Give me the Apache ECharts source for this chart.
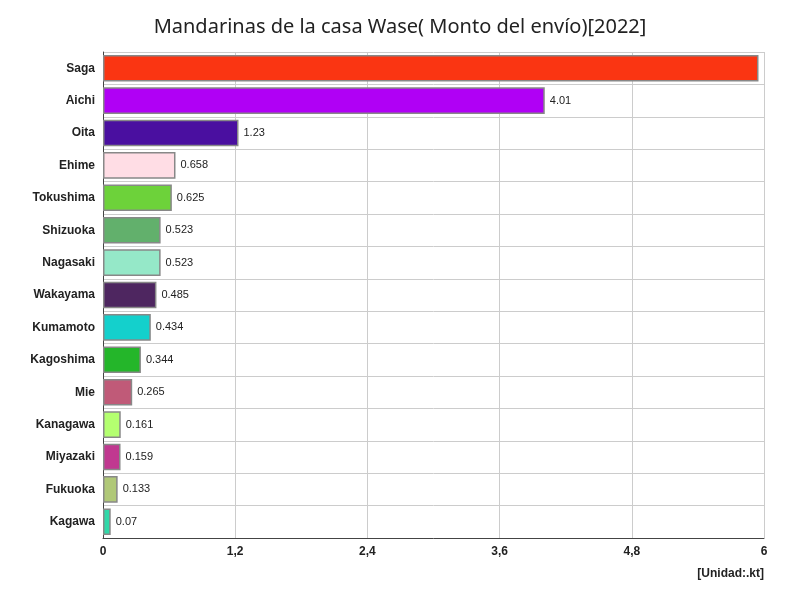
<!DOCTYPE html><html><head><meta charset="utf-8"><script src="https://cdn.jsdelivr.net/npm/echarts@6/dist/echarts.min.js"></script></head><body style="margin:0"><div id="c" style="width:800px;height:600px"></div><script>
const categories=["Saga","Aichi","Oita","Ehime","Tokushima","Shizuoka","Nagasaki","Wakayama","Kumamoto","Kagoshima","Mie","Kanagawa","Miyazaki","Fukuoka","Kagawa"];
const values=[5.95,4.01,1.23,0.658,0.625,0.523,0.523,0.485,0.434,0.344,0.265,0.161,0.159,0.133,0.07];
const colors=["#fa3512","#b000f5","#4a0fa0","#ffdde5","#6dd23a","#62b06c","#95e8c8","#4e2660","#14d0cc","#24b62a","#c05a78","#b4ff70","#c03890","#b0c878","#30d8a8"];
const chart=echarts.init(document.getElementById('c'));
chart.setOption({
title:{text:"Mandarinas de la casa Wase( Monto del envío)[2022]",left:'center',top:12,textStyle:{fontSize:20,fontWeight:'normal',color:'#222',fontFamily:'Noto Sans'}},
grid:{left:103,right:36,top:52,bottom:62},
xAxis:{type:'value',min:0,max:6,interval:1.2,axisLabel:{fontWeight:'bold',color:'#222',formatter:v=>String(+v.toFixed(1)).replace('.',',')},axisLine:{show:true,lineStyle:{color:'#444'}},splitLine:{lineStyle:{color:'#ccc'}},name:'[Unidad:.kt]',nameLocation:'end',nameGap:0,nameTextStyle:{fontWeight:'bold',color:'#222',align:'right',verticalAlign:'top',padding:[30,0,0,0]}},
yAxis:{type:'category',inverse:true,data:categories,axisTick:{show:false},axisLabel:{fontWeight:'bold',color:'#222'},axisLine:{lineStyle:{color:'#444'}},splitLine:{show:true,lineStyle:{color:'#ccc'}}},
series:[{type:'bar',barWidth:'82%',data:values.map((v,i)=>({value:v,itemStyle:{color:colors[i]},label:{show:i>0}})),itemStyle:{borderColor:'#888',borderWidth:1.5},label:{position:'right',fontSize:11,color:'#222'}}]
});
</script></body></html>
